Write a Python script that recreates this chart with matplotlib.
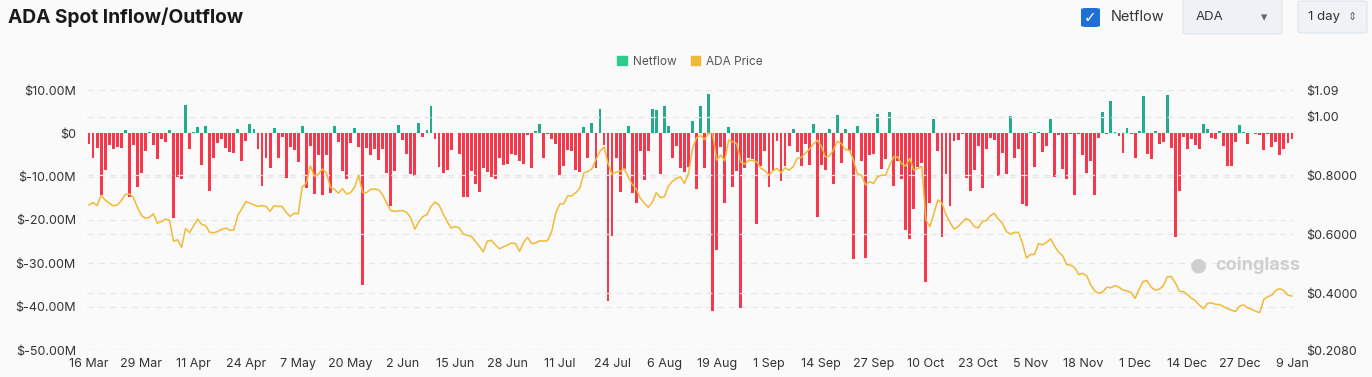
import matplotlib
matplotlib.use("Agg")
import matplotlib.pyplot as plt
from matplotlib.patches import FancyBboxPatch, Patch
import numpy as np
import pandas as pd

# daily netflow in $M, 16 Mar 2025 -> 9 Jan 2026
netflow = [
    -2.4, -5.8, -3.3, -14.3, -8.4, -2.7, -3.6, -3.2, -3.3, 0.7,
    -14.6, -2.7, -12.4, -9.1, -4.1, 0.2, -2.7, -6.0, -1.4, -1.9,
    0.7, -19.6, -10.0, -10.6, 6.5, -3.7, 0.2, 1.5, -7.4, 1.8,
    -13.3, -5.8, -2.2, -1.2, -3.3, -4.3, -4.6, 0.9, -6.4, -1.8,
    2.1, 0.9, -3.6, -12.2, -5.8, -7.9, 1.2, -5.8, -0.8, -10.3,
    -3.2, -3.9, -6.6, 1.6, -12.6, -3.0, -14.0, -5.1, -14.3, -5.1,
    -13.8, 1.6, -1.9, -8.8, -10.6, -2.3, 1.3, -3.2, -35.0, -3.3,
    -5.1, -3.6, -6.1, -3.6, -9.1, -16.7, -8.6, 1.9, -1.5, -4.7,
    -9.4, -9.8, 2.4, -0.8, 0.8, 6.4, -1.4, -7.8, -9.2, -8.5,
    -3.9, 0.15, -4.8, -14.6, -14.6, -8.7, -11.6, -13.6, -7.9, -9.0,
    -10.0, -10.6, -5.7, -7.3, -7.0, -4.7, -5.1, -6.3, -7.1, -0.4,
    -8.1, 0.6, 2.1, -5.7, -0.1, -1.2, -2.4, -9.6, -7.6, -3.8,
    -4.1, -8.5, -8.9, 1.4, -5.6, 2.4, -7.9, 5.6, -2.6, -38.6,
    -23.6, -5.7, -13.6, -8.2, 1.8, -13.8, -16.0, -4.1, -10.7, -4.1,
    5.5, 5.3, -9.5, 6.4, 1.6, -5.6, -3.0, -8.1, -8.9, -7.8,
    2.9, -12.9, 6.3, -8.1, 9.0, -40.9, -26.9, -3.2, -16.0, 1.5,
    -12.3, -8.6, -40.3, -8.0, -5.7, -6.0, -21.0, -7.6, -4.0, -12.4,
    -8.8, -1.8, -11.0, -7.5, -2.9, 0.9, -4.3, -7.6, -2.4, -7.2,
    2.1, -19.2, -7.2, -8.4, 1.0, -11.8, 4.3, -6.9, 0.9, -4.1,
    -29.1, 1.8, -6.4, -28.8, -5.1, -4.7, 4.4, -8.2, -6.0, 5.0,
    -12.1, -6.4, -10.6, -22.2, -24.3, -17.4, -7.8, -6.9, -34.3, -16.0,
    3.4, -4.0, -24.0, -9.5, -16.7, -1.8, -1.6, -0.1, -10.4, -13.3,
    -8.4, -3.0, -12.7, -3.7, -1.0, -1.5, -9.9, -4.6, -9.5, 4.0,
    -5.8, -3.7, -16.4, -16.7, 0.4, -7.8, 0.3, -4.3, -3.0, 3.2,
    -10.1, -0.3, -8.2, -10.5, -0.1, -14.3, -0.1, -4.9, -9.1, -6.4,
    -14.3, -1.0, 5.0, -0.1, 7.4, 0.2, -0.6, -4.6, 1.2, -0.1,
    -5.8, 0.5, 8.5, -4.7, -6.0, 0.5, -2.5, -2.0, 8.8, -3.3,
    -23.9, -13.4, -0.9, -3.6, -1.4, -2.8, -3.6, 2.1, 1.1, -1.0,
    -1.2, 0.5, -3.0, -7.5, -7.5, -2.0, 1.9, 0.2, -2.4, 0.0,
    -0.2, -0.5, -3.9, -0.2, -3.1, -1.9, -4.9, -3.6, -2.2, -1.2,
]

ada_price = [
    0.700, 0.708, 0.698, 0.732, 0.717, 0.706, 0.697, 0.700, 0.714, 0.735,
    0.738, 0.726, 0.693, 0.665, 0.655, 0.658, 0.670, 0.638, 0.644, 0.652,
    0.648, 0.577, 0.582, 0.556, 0.620, 0.606, 0.630, 0.652, 0.634, 0.630,
    0.607, 0.606, 0.610, 0.617, 0.622, 0.614, 0.616, 0.665, 0.688, 0.712,
    0.706, 0.700, 0.695, 0.698, 0.695, 0.678, 0.698, 0.695, 0.695, 0.675,
    0.661, 0.672, 0.670, 0.762, 0.773, 0.833, 0.798, 0.804, 0.822, 0.809,
    0.760, 0.753, 0.740, 0.755, 0.737, 0.742, 0.760, 0.801, 0.742, 0.742,
    0.753, 0.754, 0.751, 0.734, 0.706, 0.681, 0.678, 0.680, 0.681, 0.674,
    0.655, 0.618, 0.644, 0.661, 0.667, 0.695, 0.710, 0.700, 0.670, 0.644,
    0.622, 0.627, 0.622, 0.602, 0.597, 0.594, 0.577, 0.560, 0.541, 0.577,
    0.580, 0.565, 0.551, 0.558, 0.564, 0.571, 0.569, 0.543, 0.573, 0.590,
    0.569, 0.571, 0.579, 0.577, 0.580, 0.610, 0.672, 0.703, 0.704, 0.731,
    0.731, 0.742, 0.757, 0.809, 0.813, 0.823, 0.854, 0.882, 0.897, 0.841,
    0.804, 0.811, 0.814, 0.823, 0.796, 0.770, 0.755, 0.723, 0.706, 0.692,
    0.709, 0.742, 0.725, 0.728, 0.764, 0.780, 0.790, 0.796, 0.773, 0.807,
    0.891, 0.928, 0.935, 0.922, 0.944, 0.942, 0.852, 0.869, 0.850, 0.920,
    0.914, 0.908, 0.846, 0.839, 0.852, 0.850, 0.846, 0.824, 0.816, 0.801,
    0.816, 0.824, 0.809, 0.826, 0.818, 0.830, 0.858, 0.861, 0.875, 0.888,
    0.906, 0.920, 0.899, 0.863, 0.866, 0.886, 0.916, 0.908, 0.888, 0.886,
    0.852, 0.805, 0.801, 0.768, 0.779, 0.773, 0.796, 0.801, 0.801, 0.835,
    0.863, 0.863, 0.839, 0.832, 0.858, 0.818, 0.824, 0.830, 0.650, 0.627,
    0.672, 0.717, 0.706, 0.667, 0.641, 0.618, 0.627, 0.641, 0.654, 0.647,
    0.627, 0.622, 0.644, 0.647, 0.663, 0.672, 0.652, 0.638, 0.610, 0.601,
    0.607, 0.607, 0.571, 0.520, 0.532, 0.532, 0.569, 0.565, 0.573, 0.585,
    0.560, 0.540, 0.528, 0.498, 0.496, 0.487, 0.464, 0.468, 0.459, 0.428,
    0.408, 0.400, 0.406, 0.421, 0.419, 0.427, 0.421, 0.411, 0.408, 0.403,
    0.383, 0.414, 0.441, 0.443, 0.421, 0.411, 0.414, 0.425, 0.456, 0.457,
    0.436, 0.408, 0.406, 0.396, 0.384, 0.375, 0.360, 0.348, 0.366, 0.368,
    0.363, 0.362, 0.355, 0.348, 0.343, 0.339, 0.357, 0.361, 0.351, 0.346,
    0.339, 0.335, 0.380, 0.389, 0.394, 0.411, 0.416, 0.409, 0.394, 0.391,
]

dates = pd.date_range("2025-03-16", periods=len(netflow), freq="D")
left_ticks = [10, 0, -10, -20, -30, -40, -50]
left_labels = ["$10.00M", "$0", "$-10.00M", "$-20.00M", "$-30.00M", "$-40.00M", "$-50.00M"]
right_ticks = [0.208, 0.4, 0.6, 0.8, 1.0, 1.09]
right_labels = ["$0.2080", "$0.4000", "$0.6000", "$0.8000", "$1.00", "$1.09"]

RED = "#f5384b"
GREEN = "#27a98c"
GOLD = "#f0b93a"
BG = "#fafafa"
GRID = "#e6e6e6"
TXT = "#333333"

plt.rcParams["font.family"] = ["Inter", "DejaVu Sans"]

fig = plt.figure(figsize=(13.72, 3.77), dpi=100, facecolor=BG)
W, H = 1372, 377
ax = fig.add_axes([87 / W, 1 - 350 / H, 1207 / W, 260 / H], facecolor=BG)
ax2 = ax.twinx()

x = np.arange(len(netflow))
vals = np.array(netflow)
colors = [GREEN if v > 0 else RED for v in vals]
ax.bar(x, vals, width=0.72, color=colors, linewidth=0, zorder=2)
ax.set_xlim(-0.5, len(netflow) - 0.5)
ax.set_ylim(-50, 10)
ax.set_yticks(left_ticks)
ax.set_yticklabels(left_labels)
tick_idx = list(range(0, len(netflow), 13))
ax.set_xticks(tick_idx)
ax.set_xticklabels([f"{dates[i].day} {dates[i]:%b}" for i in tick_idx])
for v in left_ticks:
    ax.axhline(v, color=GRID, lw=0.9, ls=(0, (5, 4)), zorder=0)

ax2.plot(x, ada_price, color=GOLD, lw=1.1, zorder=3)
ax2.set_ylim(0.208, 1.09)
ax2.set_yticks(right_ticks)
ax2.set_yticklabels(right_labels)
for v in right_ticks[1:-1]:
    ax2.axhline(v, color=GRID, lw=0.9, ls=(0, (5, 4)), zorder=0)

for a in (ax, ax2):
    for s in a.spines.values():
        s.set_visible(False)
    a.tick_params(length=0, labelsize=9, colors=TXT)
ax.tick_params(axis="y", pad=8)
ax.tick_params(axis="x", pad=6)
ax2.tick_params(axis="y", pad=9)

# legend
handles = [Patch(color="#2ecc8a", label="Netflow"), Patch(color=GOLD, label="ADA Price")]
fig.legend(handles=handles, loc="center", bbox_to_anchor=(690 / W, 1 - 62 / H), ncol=2,
           frameon=False, fontsize=8.5, handlelength=0.8, handleheight=0.8,
           handletextpad=0.5, columnspacing=1.2, labelcolor="#555555")

# title and controls
fig.text(8 / W, 1 - 17 / H, "ADA Spot Inflow/Outflow", fontsize=13.8, fontweight="bold",
         color="#1a1a1a", va="center", ha="left")
fig.patches.append(FancyBboxPatch((1081 / W, 1 - 27 / H), 19 / W, 19 / H,
                                  boxstyle="round,pad=0,rounding_size=0.004",
                                  transform=fig.transFigure, fc="#1f6fd6", ec="none"))
fig.text(1090.5 / W, 1 - 17.5 / H, "✓", color="white", fontsize=11, ha="center", va="center",
         family=["DejaVu Sans"], fontweight="bold")
fig.text(1111 / W, 1 - 17 / H, "Netflow", fontsize=10.5, color=TXT, va="center")
fig.patches.append(FancyBboxPatch((1183 / W, 1 - 34 / H), 99 / W, 36 / H,
                                  boxstyle="round,pad=0,rounding_size=0.004",
                                  transform=fig.transFigure, fc="#eef2f6", ec="#dfe4ea", lw=0.8))
fig.text(1196 / W, 1 - 17 / H, "ADA", fontsize=9.5, color=TXT, va="center")
fig.text(1264 / W, 1 - 18 / H, "▾", fontsize=9, color="#666666", va="center", ha="center",
         family=["DejaVu Sans"])
fig.patches.append(FancyBboxPatch((1298 / W, 1 - 33 / H), 69 / W, 32 / H,
                                  boxstyle="round,pad=0,rounding_size=0.004",
                                  transform=fig.transFigure, fc="#f0f2f5", ec="#dfe4ea", lw=0.8))
fig.text(1308 / W, 1 - 17 / H, "1 day", fontsize=9.5, color=TXT, va="center")
fig.text(1352 / W, 1 - 17 / H, "⇕", fontsize=8, color="#666666", va="center", ha="center",
         family=["DejaVu Sans"])

# watermark
fig.text(1215 / W, 1 - 265 / H, "coinglass", fontsize=13, fontweight="bold",
         color="#cfcfcf", va="center", ha="left")
fig.text(1198 / W, 1 - 265 / H, "●", fontsize=14, color="#cfcfcf", va="center", ha="center",
         family=["DejaVu Sans"])

fig.savefig("out.png", dpi=100, facecolor=BG)
